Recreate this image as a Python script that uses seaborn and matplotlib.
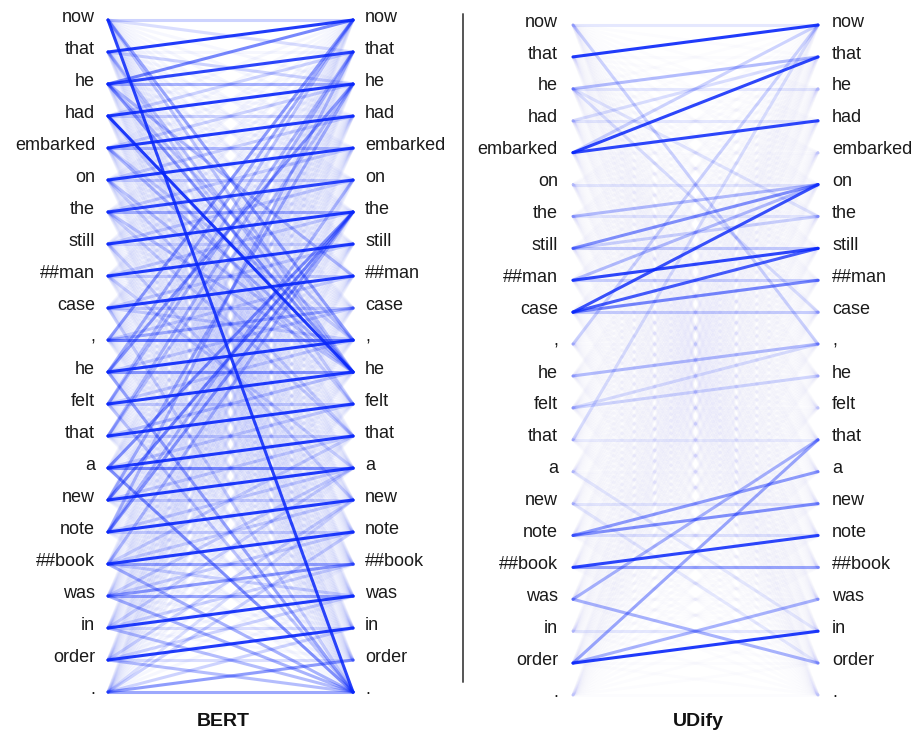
import numpy as np
import pandas as pd
import matplotlib
matplotlib.use("Agg")
import matplotlib.pyplot as plt
from matplotlib.collections import LineCollection
from matplotlib.lines import Line2D
import seaborn as sns

# Word pieces of the sentence (same on both sides of each panel)
tokens = ["now", "that", "he", "had", "embarked", "on", "the", "still", "##man",
          "case", ",", "he", "felt", "that", "a", "new", "note", "##book", "was",
          "in", "order", "."]

# Attention links: (query index on the left, key index on the right, weight)
bert_links = [
    # previous-token head pattern
    (1, 0, .9), (2, 1, .85), (3, 2, .9), (4, 3, .9), (5, 4, .9), (6, 5, .85),
    (7, 6, .9), (8, 7, .9), (9, 8, .9), (10, 9, .35), (10, 10, .6), (11, 10, .9),
    (12, 11, .9), (13, 12, .9), (14, 13, .9), (15, 14, .9), (16, 15, .9),
    (17, 16, .9), (18, 17, .45), (19, 18, .9), (20, 19, .9), (21, 20, .45),
    # attention to the same token
    (0, 0, .2), (2, 2, .35), (3, 3, .2), (4, 4, .3), (5, 5, .2), (6, 6, .35),
    (7, 7, .15), (8, 8, .2), (9, 9, .2), (11, 11, .45), (12, 12, .2),
    (13, 13, .2), (14, 14, .5), (15, 15, .2), (16, 16, .2), (17, 17, .4),
    (18, 18, .4), (19, 19, .15), (20, 20, .15), (21, 21, .4),
    # long-range links
    (0, 21, .85), (3, 11, .9), (0, 10, .4), (0, 11, .25), (2, 0, .55),
    (2, 11, .45), (2, 8, .3), (2, 10, .25), (1, 11, .25), (4, 11, .3),
    (5, 11, .25), (6, 11, .25), (4, 10, .2), (10, 0, .45), (11, 0, .35),
    (11, 2, .45), (11, 21, .4), (12, 0, .25), (12, 1, .3), (13, 1, .3),
    (13, 2, .25), (14, 6, .5), (14, 21, .5), (15, 6, .55), (15, 2, .35),
    (16, 6, .45), (16, 5, .3), (16, 1, .3), (17, 6, .3), (17, 21, .35),
    (18, 21, .35), (19, 21, .3), (20, 21, .3), (12, 21, .25), (9, 21, .2),
    (6, 13, .2), (3, 12, .2), (1, 12, .2), (5, 13, .2), (7, 15, .2),
    (8, 14, .2), (19, 14, .2), (20, 15, .2), (21, 15, .15), (21, 16, .2),
    (18, 14, .2), (17, 13, .2),
    # weaker neighbour links
    (0, 1, .15), (1, 2, .2), (3, 1, .2), (4, 2, .2), (5, 3, .2), (6, 4, .2),
    (7, 5, .2), (8, 6, .2), (9, 7, .2), (9, 10, .2), (10, 8, .2), (11, 9, .2),
    (12, 10, .2), (13, 11, .25), (14, 12, .2), (15, 13, .2), (16, 14, .2),
    (17, 15, .2), (17, 18, .2), (18, 16, .2), (19, 17, .2), (20, 18, .2),
    (21, 19, .2),
]
bert_floor = 0.035

udify_links = [
    (1, 0, .9), (2, 1, .3), (4, 1, .85), (4, 3, .85), (4, 0, .2),
    (0, 10, .2), (2, 9, .15), (3, 1, .15), (2, 6, .12),
    (6, 5, .3), (7, 5, .5), (7, 7, .22), (7, 6, .2), (8, 7, .85), (8, 5, .3),
    (8, 8, .2), (9, 5, .8), (9, 7, .75), (9, 8, .55), (9, 9, .22),
    (10, 0, .2), (11, 10, .3), (12, 11, .18), (12, 10, .15), (13, 0, .15),
    (16, 15, .5), (16, 14, .45), (17, 16, .85), (17, 17, .4),
    (18, 13, .35), (18, 20, .35), (20, 19, .9), (20, 18, .35), (20, 13, .4),
    (0, 0, .1), (2, 2, .1), (3, 3, .1), (5, 5, .1), (6, 6, .1), (13, 13, .08),
    (15, 15, .1), (19, 19, .1), (16, 16, .12), (14, 19, .1), (15, 20, .1),
]
udify_floor = 0.012

LINE_COLOR = (0.03, 0.15, 0.98)


def weight_table(links, floor):
    n = len(tokens)
    w = np.full((n, n), floor)
    for s, d, v in links:
        w[s, d] = v
    src, dst = np.meshgrid(np.arange(n), np.arange(n), indexing="ij")
    df = pd.DataFrame({"src": src.ravel(), "dst": dst.ravel(), "w": w.ravel()})
    return df.sort_values("w").reset_index(drop=True)


def draw_panel(fig, box, df, gap_left, gap_right):
    ax = fig.add_axes(box)
    ax.set_xlim(0, 1)
    ax.set_ylim(len(tokens) - 1, 0)
    ax.axis("off")
    segs = [[(0, s), (1, d)] for s, d in zip(df["src"], df["dst"])]
    colors = [(*LINE_COLOR, a) for a in df["w"]]
    lc = LineCollection(segs, colors=colors, linewidths=2.2, clip_on=False,
                        capstyle="round")
    ax.add_collection(lc)
    for i, tok in enumerate(tokens):
        ax.text(-gap_left, i - 0.09, tok, ha="right", va="center",
                fontsize=13, color="#1a1a1a")
        ax.text(1 + gap_right, i - 0.09, tok, ha="left", va="center",
                fontsize=13, color="#1a1a1a")
    return ax


sns.set_theme(style="white")
plt.rcParams["font.family"] = ["Liberation Sans", "DejaVu Sans"]

W, H = 919, 738
fig = plt.figure(figsize=(W / 100, H / 100), dpi=100)
fig.patch.set_facecolor("white")


def px_box(x0, x1, y_top, y_bot):
    return [x0 / W, 1 - y_bot / H, (x1 - x0) / W, (y_bot - y_top) / H]


draw_panel(fig, px_box(108, 353, 20, 692), weight_table(bert_links, bert_floor),
           13 / 245, 12 / 245)
draw_panel(fig, px_box(573, 818, 25, 695), weight_table(udify_links, udify_floor),
           15 / 245, 14 / 245)

fig.add_artist(Line2D([463 / W, 463 / W], [1 - 14 / H, 1 - 682 / H],
                      color="#555555", lw=1.4))
fig.text(223 / W, 1 - 722 / H, "BERT", ha="center", va="center",
         fontsize=14, fontweight="bold", color="#111111")
fig.text(698 / W, 1 - 722 / H, "UDify", ha="center", va="center",
         fontsize=14, fontweight="bold", color="#111111")

fig.savefig("out.png", dpi=100)
